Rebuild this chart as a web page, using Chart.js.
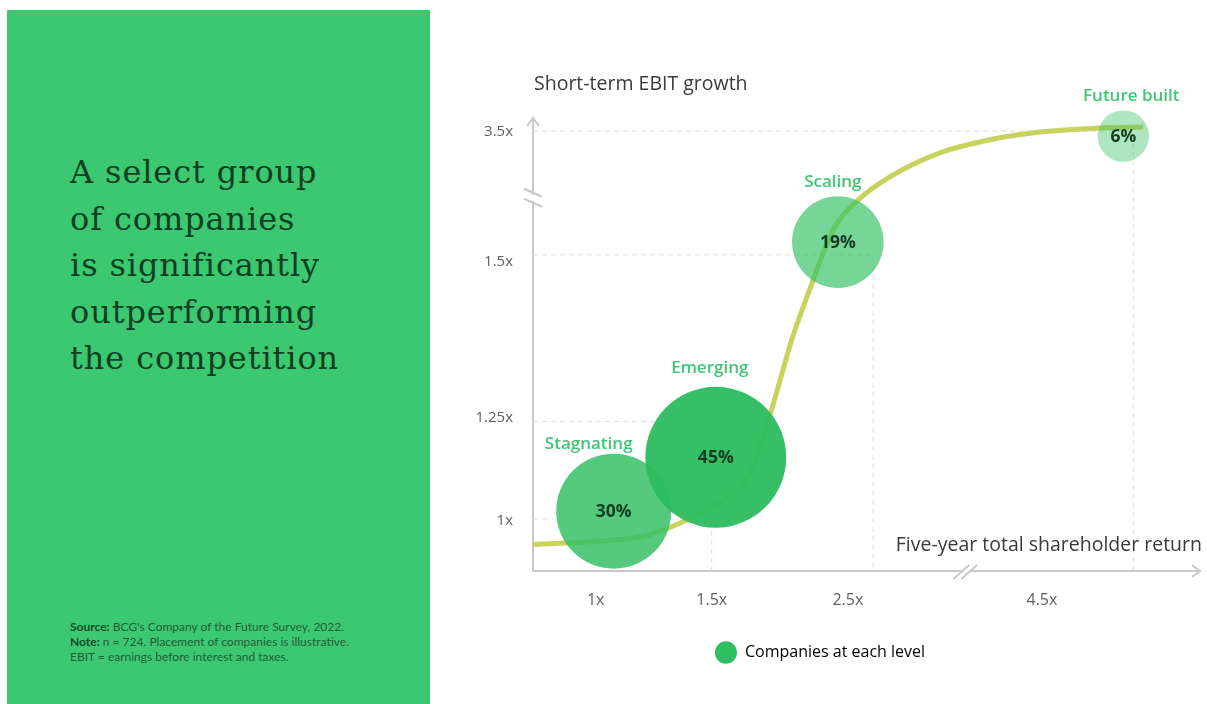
<!DOCTYPE html>
<html>
<head>
<meta charset="utf-8">
<script src="https://cdn.jsdelivr.net/npm/chart.js@4/dist/chart.umd.min.js"></script>
<style>
  html, body { margin: 0; padding: 0; background: #fff; }
  body { width: 1207px; height: 704px; position: relative; overflow: hidden; }
  .panel { position: absolute; left: 7px; top: 10px; width: 423px; height: 694px; background: #3cc870; }
  .headline { position: absolute; left: 63px; top: 139px; margin: 0; font-family: "DejaVu Serif", serif; font-weight: normal;
    font-size: 32px; line-height: 46.5px; letter-spacing: 0.9px; color: #0f3f21; }
  .notes { position: absolute; left: 63px; top: 609px; font-family: Lato, sans-serif; font-size: 12px; line-height: 15px; color: #1f5e36; }
  .notes b { color: #16492a; }
  .chart-box { position: absolute; left: 440px; top: 0; width: 767px; height: 704px; }
</style>
</head>
<body>
<div class="panel">
  <h1 class="headline">A select group<br>of companies<br>is significantly<br>outperforming<br>the competition</h1>
  <div class="notes">
    <b>Source:</b> BCG's Company of the Future Survey, 2022.<br>
    <b>Note:</b> n = 724. Placement of companies is illustrative.<br>
    EBIT = earnings before interest and taxes.
  </div>
</div>
<div class="chart-box"><canvas id="chart"></canvas></div>

<script>
// axes are drawn "broken", so positions are given as % of the axis length
const yTickLabels = ['1x', '1.25x', '1.5x', '3.5x'];
const yTickPos = [11.0, 33.9, 68.3, 96.9];
const xTickLabels = ['1x', '1.5x', '2.5x', '4.5x'];
const xTickPos = [9.4, 26.8, 47.2, 76.3];
const yBreak = 82.4;
const xBreak = 64.8;

// dashed guides for each level
const guideX = [10.0, 26.8, 51.0, 90.0];
const guideY = [11.5, 33.0, 69.8, 97.1];

// companies at each level
const stageNames = ['Stagnating', 'Emerging', 'Scaling', 'Future built'];
const stageShares = [30, 45, 19, 6];
const stageX = [12.1, 27.4, 45.7, 88.5];
const stageY = [13.2, 25.1, 72.6, 96.0];

// growth curve
const curveX = [0, 10.0, 17.1, 24.0, 29.1, 32.5, 34.8, 37.0, 38.8, 41.1, 45.0, 48.6, 53.5, 61.0, 68.5, 76.0, 85.0, 91.5];
const curveY = [5.9, 6.6, 7.9, 11.9, 16.3, 21.4, 30.8, 41.9, 51.1, 60.6, 75.3, 81.7, 87.0, 92.3, 95.2, 96.9, 97.8, 98.0];

const yAxisTitle = 'Short-term EBIT growth';
const xAxisTitle = 'Five-year total shareholder return';
const legendText = 'Companies at each level';

const green = '#31bf63';
const axisColor = '#c9c9c9';
const tickColor = '#606060';

const bubbleColors = [
  'rgba(52, 192, 100, 0.84)',
  'rgba(46, 188, 96, 0.96)',
  'rgba(52, 192, 100, 0.67)',
  'rgba(52, 192, 100, 0.40)',
];

const guideSets = guideX.map((gx, i) => ({
  type: 'line',
  data: [{ x: 0, y: guideY[i] }, { x: gx, y: guideY[i] }, { x: gx, y: 0 }],
  borderColor: '#dddddd',
  borderWidth: 1,
  borderDash: [5, 4],
  pointRadius: 0,
  tension: 0,
  clip: false,
  order: 3,
}));

const axisDecor = {
  id: 'axisDecor',
  afterDraw(chart) {
    const { ctx, chartArea: a, scales: { x, y } } = chart;
    ctx.save();
    ctx.strokeStyle = axisColor;
    ctx.lineWidth = 2;
    // arrow heads
    ctx.beginPath();
    ctx.moveTo(a.left - 6, a.top + 8);
    ctx.lineTo(a.left, a.top);
    ctx.lineTo(a.left + 6, a.top + 8);
    ctx.moveTo(a.right - 8, a.bottom - 6);
    ctx.lineTo(a.right, a.bottom);
    ctx.lineTo(a.right - 8, a.bottom + 6);
    ctx.stroke();

    // y break
    const by = y.getPixelForValue(yBreak);
    ctx.fillStyle = '#fff';
    ctx.fillRect(a.left - 2, by - 3, 4, 6);
    ctx.beginPath();
    ctx.moveTo(a.left - 9, by - 9);
    ctx.lineTo(a.left + 9, by - 1);
    ctx.moveTo(a.left - 9, by + 1);
    ctx.lineTo(a.left + 9, by + 9);
    ctx.stroke();

    // x break
    const bx = x.getPixelForValue(xBreak);
    ctx.fillRect(bx - 4, a.bottom - 2, 8, 4);
    ctx.beginPath();
    ctx.moveTo(bx - 12, a.bottom + 8);
    ctx.lineTo(bx + 4, a.bottom - 6);
    ctx.moveTo(bx - 4, a.bottom + 8);
    ctx.lineTo(bx + 12, a.bottom - 6);
    ctx.stroke();

    // axis titles
    ctx.fillStyle = '#3a3a3a';
    ctx.font = '19.5px "Open Sans", sans-serif';
    ctx.textBaseline = 'middle';
    ctx.textAlign = 'left';
    ctx.fillText(yAxisTitle, a.left + 1, 84);
    ctx.textAlign = 'right';
    ctx.fillText(xAxisTitle, a.right + 2, a.bottom - 26);
    ctx.restore();
  },
};

const stageLabels = {
  id: 'stageLabels',
  afterDatasetsDraw(chart, args, opts) {
    const { ctx } = chart;
    const meta = chart.getDatasetMeta(0);
    ctx.save();
    ctx.textAlign = 'center';
    ctx.textBaseline = 'middle';
    meta.data.forEach((el, i) => {
      const r = el.options.radius;
      ctx.fillStyle = '#40c674';
      ctx.font = '600 17px "Open Sans", sans-serif';
      ctx.fillText(stageNames[i], el.x + opts.dx[i], el.y - r - opts.dy[i]);
      ctx.fillStyle = '#163b22';
      ctx.font = 'bold 17.5px "Open Sans", sans-serif';
      ctx.fillText(stageShares[i] + '%', el.x, el.y + 1);
    });
    ctx.restore();
  },
};

new Chart(document.getElementById('chart'), {
  type: 'bubble',
  data: {
    datasets: [
      {
        type: 'bubble',
        data: stageX.map((x, i) => ({ x: x, y: stageY[i], share: stageShares[i] })),
        backgroundColor: bubbleColors,
        borderWidth: 0,
        radius: (c) => 10.5 * Math.sqrt(c.raw.share),
        hoverRadius: 0,
        clip: false,
        order: 1,
      },
      {
        type: 'line',
        data: curveX.map((x, i) => ({ x: x, y: curveY[i] })),
        borderColor: '#c8d35e',
        borderWidth: 5,
        pointRadius: 0,
        cubicInterpolationMode: 'monotone',
        clip: false,
        order: 2,
      },
      ...guideSets,
    ],
  },
  options: {
    responsive: true,
    maintainAspectRatio: false,
    animation: false,
    events: [],
    layout: { autoPadding: false, padding: { top: 118, right: 7, bottom: 33.5, left: 0 } },
    scales: {
      x: {
        type: 'linear',
        min: 0,
        max: 100,
        afterBuildTicks: (s) => { s.ticks = xTickPos.map((v) => ({ value: v })); },
        afterFit: (s) => { s.height = 63.5; },
        ticks: {
          autoSkip: false,
          maxRotation: 0,
          padding: 20,
          color: tickColor,
          font: { family: 'Open Sans', size: 16 },
          callback: (v, i) => xTickLabels[i],
        },
        grid: { display: false, drawTicks: false },
        border: { display: true, color: axisColor, width: 2 },
      },
      y: {
        type: 'linear',
        min: 0,
        max: 100,
        afterBuildTicks: (s) => { s.ticks = yTickPos.map((v) => ({ value: v })); },
        afterFit: (s) => { s.width = 93; },
        ticks: {
          autoSkip: false,
          padding: 20,
          color: tickColor,
          font: { family: 'Open Sans', size: 15 },
          callback: (v, i) => yTickLabels[i],
        },
        grid: { display: false, drawTicks: false },
        border: { display: true, color: axisColor, width: 2 },
      },
    },
    plugins: {
      tooltip: { enabled: false },
      legend: {
        position: 'bottom',
        labels: {
          usePointStyle: true,
          pointStyleWidth: 22,
          padding: 10,
          color: '#555',
          font: { family: 'Open Sans', size: 16 },
          generateLabels: () => [{
            text: legendText,
            fillStyle: green,
            strokeStyle: 'rgba(0,0,0,0)',
            lineWidth: 0,
            pointStyle: 'circle',
            hidden: false,
            datasetIndex: 0,
          }],
        },
      },
      stageLabels: { dx: [-25, -6, -5, 8], dy: [10, 19, 14, 14] },
    },
  },
  plugins: [axisDecor, stageLabels],
});
</script>
</body>
</html>
